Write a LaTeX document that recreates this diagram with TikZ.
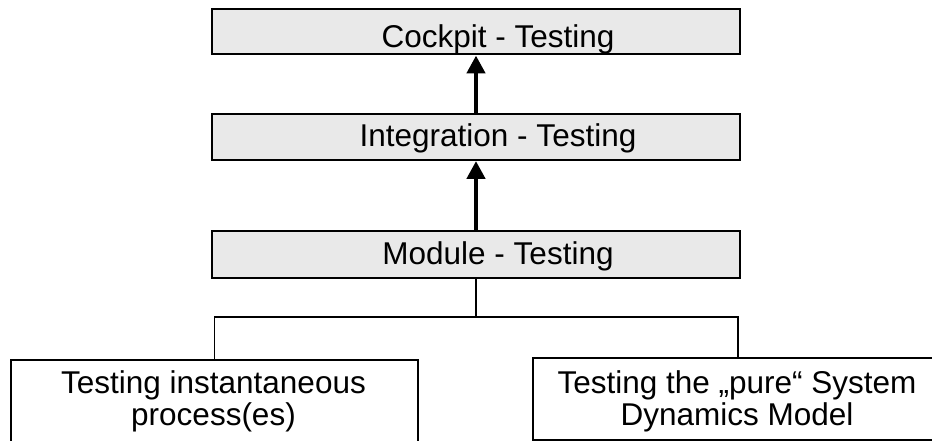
\documentclass[tikz,border=0pt]{standalone}
\usepackage{fontspec}
\setmainfont{Liberation Sans}
\usetikzlibrary{arrows.meta}
\definecolor{boxgray}{RGB}{233,233,233}
\begin{document}
\begin{tikzpicture}[x=1bp,y=-1bp,
  graybox/.style={draw=black, line width=2bp, fill=boxgray, minimum width=527bp,
    minimum height=45bp, inner sep=0pt, anchor=north, rectangle},
  whitebox/.style={draw=black, line width=2bp, fill=white, inner sep=0pt,
    anchor=north west, rectangle},
  lbl/.style={inner sep=0pt, font=\fontsize{31.5bp}{32bp}\selectfont},
  thickarrow/.style={line width=4.5bp, -{Triangle[length=18bp,width=18bp]}},
  conn/.style={line width=1.6bp}]
\useasboundingbox (0,0) rectangle (932,441);
\clip (0,0) rectangle (932,441);
\fill[white] (0,0) rectangle (932,441);

\node[graybox] (cock) at (476,8.5) {};
\node[graybox, minimum height=46bp] (integ) at (476,113) {};
\node[graybox, minimum height=47bp] (mod) at (476,230) {};

\node[lbl, anchor=base] (tcock) at (498,48) {Cockpit - Testing};
\node[lbl, anchor=base] (tinteg) at (498,147) {Integration - Testing};
\node[lbl, anchor=base] (tmod) at (498,265) {Module - Testing};

\node[whitebox, minimum width=407bp, minimum height=110bp] (lb) at (10,359) {};
\node[whitebox, minimum width=410bp, minimum height=82bp] (rb) at (532,357) {};

\node[lbl, align=center] (tlb) at (213.5,401) {Testing instantaneous\\process(es)};
\node[lbl, align=center] (trb) at (737,401) {Testing the „pure“ System\\Dynamics Model};

\draw[thickarrow] (integ.north) -- (cock.south);
\draw[thickarrow] (mod.north) -- (integ.south);

\coordinate (split) at (476,317);
\draw[conn] (mod.south) -- (split);
\draw[conn] (split) -| (lb.north);
\draw[conn] (split) -| (rb.north);
\end{tikzpicture}
\end{document}
